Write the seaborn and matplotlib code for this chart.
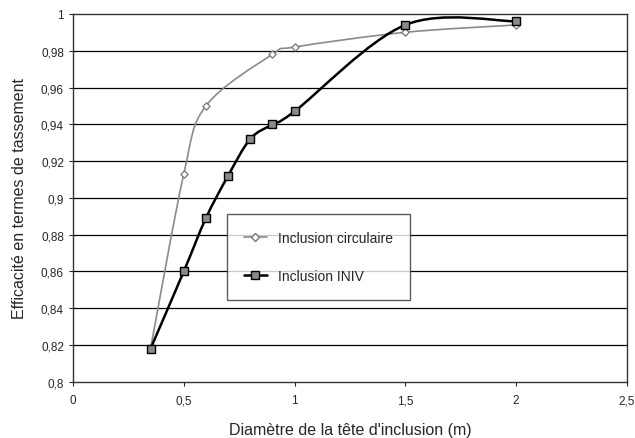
import matplotlib
matplotlib.use("Agg")
import matplotlib.pyplot as plt
from matplotlib.path import Path
from matplotlib.patches import PathPatch
from matplotlib.lines import Line2D
import numpy as np
import seaborn as sns

# Data
diam_circ = [0.35, 0.5, 0.6, 0.9, 1.0, 1.5, 2.0]
eff_circ = [0.818, 0.913, 0.950, 0.978, 0.982, 0.990, 0.994]

diam_iniv = [0.35, 0.5, 0.6, 0.7, 0.8, 0.9, 1.0, 1.5, 2.0]
eff_iniv = [0.818, 0.860, 0.889, 0.912, 0.932, 0.940, 0.947, 0.994, 0.996]

x_ticks = [0, 0.5, 1, 1.5, 2, 2.5]
y_ticks = [0.8, 0.82, 0.84, 0.86, 0.88, 0.9, 0.92, 0.94, 0.96, 0.98, 1.0]


def fr(v):
    return f"{v:g}".replace(".", ",")


def smooth_path(x, y, tension=1 / 6):
    # Excel-style smoothed line: cubic Bezier through the points
    x = np.asarray(x, float)
    y = np.asarray(y, float)
    verts = [(x[0], y[0])]
    codes = [Path.MOVETO]
    n = len(x)
    for i in range(n - 1):
        i0, i3 = max(i - 1, 0), min(i + 2, n - 1)
        c1 = (x[i] + (x[i + 1] - x[i0]) * tension, y[i] + (y[i + 1] - y[i0]) * tension)
        c2 = (x[i + 1] - (x[i3] - x[i]) * tension, y[i + 1] - (y[i3] - y[i]) * tension)
        verts += [c1, c2, (x[i + 1], y[i + 1])]
        codes += [Path.CURVE4] * 3
    return Path(verts, codes)


sns.set_style("white")
plt.rcParams["font.family"] = ["Liberation Sans", "DejaVu Sans"]

fig = plt.figure(figsize=(6.35, 4.39), dpi=100)
ax = fig.add_axes([0.115, 0.128, 0.872, 0.838])

for yv in y_ticks[1:-1]:
    ax.axhline(yv, color="black", linewidth=0.9, zorder=1)

ax.add_patch(PathPatch(smooth_path(diam_circ, eff_circ), facecolor="none",
                       edgecolor="#8a8a8a", linewidth=1.2, zorder=2))
ax.add_patch(PathPatch(smooth_path(diam_iniv, eff_iniv), facecolor="none",
                       edgecolor="black", linewidth=1.8, zorder=3))

sns.scatterplot(x=diam_circ, y=eff_circ, marker="D", s=14, color="white",
                edgecolor="#777777", linewidth=0.9, ax=ax, zorder=4)
sns.scatterplot(x=diam_iniv, y=eff_iniv, marker="s", s=26, color="#8a8a8a",
                edgecolor="black", linewidth=1.0, ax=ax, zorder=5)

ax.set_xlim(0, 2.5)
ax.set_ylim(0.8, 1.0)
ax.set_xticks(x_ticks)
ax.set_xticklabels([fr(v) for v in x_ticks])
ax.set_yticks(y_ticks)
ax.set_yticklabels([fr(round(v, 2)) for v in y_ticks])
ax.tick_params(labelsize=8.5, length=3, direction="out", left=True, bottom=True)
ax.tick_params(axis="x", pad=6)
for sp in ax.spines.values():
    sp.set_color("#333333")
    sp.set_linewidth(1.0)

ax.set_xlabel("Diamètre de la tête d'inclusion (m)", fontsize=11.5, labelpad=11)
ax.set_ylabel("Efficacité en termes de tassement", fontsize=11.5, labelpad=10)

handles = [
    Line2D([], [], color="#8a8a8a", linewidth=1.2, marker="D", markersize=4,
           markerfacecolor="white", markeredgecolor="#777777"),
    Line2D([], [], color="black", linewidth=1.8, marker="s", markersize=5.5,
           markerfacecolor="#8a8a8a", markeredgecolor="black"),
]
leg = ax.legend(handles, ["Inclusion circulaire", "Inclusion INIV"],
                loc="upper left", bbox_to_anchor=(0.278, 0.457), fontsize=10,
                frameon=True, fancybox=False, edgecolor="#333333",
                handlelength=1.6, labelspacing=1.7, borderpad=1.25,
                handletextpad=0.8, borderaxespad=0)
leg.get_frame().set_linewidth(1.0)
leg.set_zorder(10)

fig.savefig("out.png", dpi=100)
